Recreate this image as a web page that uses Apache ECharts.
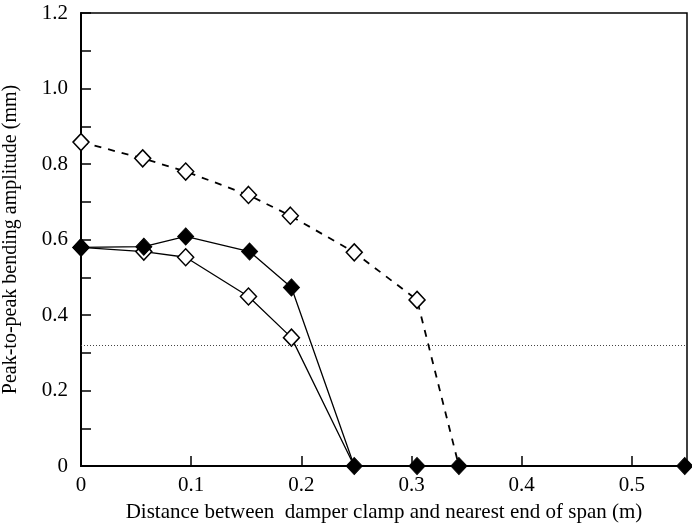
<!DOCTYPE html>
<html><head><meta charset="utf-8">
<script src="https://cdn.jsdelivr.net/npm/echarts@6/dist/echarts.min.js"></script>
<style>html,body{margin:0;padding:0;background:#fff}#c{width:692px;height:529px}</style>
</head><body><div id="c"></div>
<script>
// Dashed series (open diamonds)
const dashedX = [0, 0.056, 0.095, 0.152, 0.190, 0.248, 0.305, 0.343];
const dashedY = [0.858, 0.815, 0.780, 0.718, 0.663, 0.566, 0.440, 0];
// Solid series with open diamonds
const openX = [0, 0.057, 0.095, 0.152, 0.191, 0.248];
const openY = [0.579, 0.568, 0.553, 0.449, 0.340, 0];
// Solid series with filled diamonds (including zero-amplitude points)
const filledX = [0, 0.057, 0.095, 0.153, 0.191, 0.248, 0.305, 0.343, 0.548];
const filledY = [0.579, 0.581, 0.608, 0.568, 0.473, 0, 0, 0, 0];
const threshold = 0.316;
const xTicks = ['0', '0.1', '0.2', '0.3', '0.4', '0.5'];
const yTicks = ['0', '0.2', '0.4', '0.6', '0.8', '1.0', '1.2'];

const font = 'Liberation Serif';
const zip = (xs, ys) => xs.map((x, i) => [x, ys[i]]);
const openStyle = {color: '#fff', borderColor: '#000', borderWidth: 1.5};

const chart = echarts.init(document.getElementById('c'), null, {renderer: 'canvas'});
chart.setOption({
  animation: false,
  backgroundColor: '#fff',
  grid: {left: 81, top: 13, right: 5, bottom: 63, containLabel: false, outerBoundsMode: 'none',
    show: true, borderColor: '#000', borderWidth: 1.5, backgroundColor: 'transparent'},
  xAxis: {
    type: 'value', min: 0, max: 0.55, interval: 0.1,
    name: 'Distance between  damper clamp and nearest end of span (m)',
    nameLocation: 'middle', nameGap: 36,
    nameTextStyle: {fontFamily: font, fontSize: 21, color: '#000'},
    axisLine: {lineStyle: {color: '#000', width: 2}},
    axisTick: {inside: true, length: 10, lineStyle: {color: '#000', width: 1.5}},
    axisLabel: {fontFamily: font, fontSize: 21, color: '#000', margin: 9, showMaxLabel: false,
      formatter: v => xTicks[Math.round(v * 10)] ?? ''},
    splitLine: {show: false}
  },
  yAxis: {
    type: 'value', min: 0, max: 1.2, interval: 0.2,
    name: 'Peak-to-peak bending amplitude (mm)',
    nameLocation: 'middle', nameGap: 60,
    nameTextStyle: {fontFamily: font, fontSize: 20, color: '#000'},
    axisLine: {lineStyle: {color: '#000', width: 2}},
    axisTick: {inside: true, length: 10, lineStyle: {color: '#000', width: 1.5}},
    minorTick: {show: true, splitNumber: 2, length: 10, lineStyle: {color: '#000', width: 1.5}},
    axisLabel: {fontFamily: font, fontSize: 21, color: '#000', margin: 13,
      formatter: v => yTicks[Math.round(v * 5)] ?? ''},
    splitLine: {show: false}
  },
  series: [
    {
      type: 'line', z: 2,
      data: zip(dashedX, dashedY).map((p, i) => i === dashedX.length - 1 ? {value: p, symbol: 'none'} : p),
      symbol: 'diamond', symbolSize: [16, 17],
      lineStyle: {color: '#000', width: 1.8, type: [7, 7]},
      itemStyle: openStyle,
      markLine: {
        silent: true, symbol: 'none', label: {show: false},
        lineStyle: {color: '#444', width: 1, type: [1, 2]},
        data: [{yAxis: threshold}]
      }
    },
    {
      type: 'line', z: 3,
      data: zip(openX, openY).map((p, i) => i === openX.length - 1 ? {value: p, symbol: 'none'} : p),
      symbol: 'diamond', symbolSize: [16, 17],
      lineStyle: {color: '#000', width: 1.3},
      itemStyle: openStyle
    },
    {
      type: 'line', z: 4,
      data: zip(filledX, filledY),
      symbol: 'diamond', symbolSize: [16, 17],
      lineStyle: {color: '#000', width: 1.3},
      itemStyle: {color: '#000', borderColor: '#000', borderWidth: 1}
    }
  ]
});
</script></body></html>
